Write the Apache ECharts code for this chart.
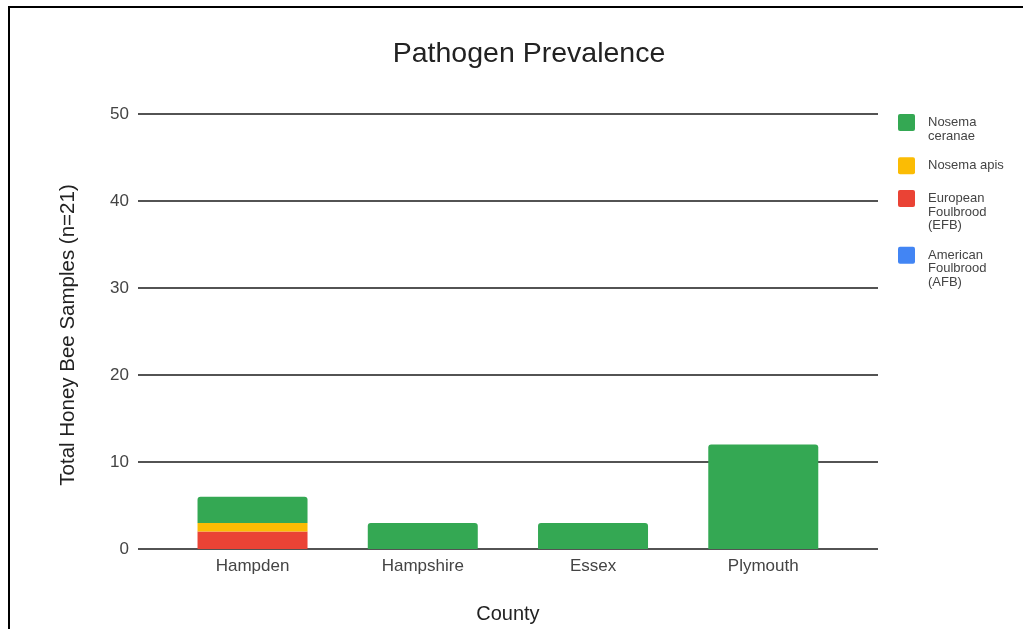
<!DOCTYPE html>
<html>
<head>
<meta charset="utf-8">
<script src="https://cdn.jsdelivr.net/npm/echarts@6/dist/echarts.min.js"></script>
<style>
html,body{margin:0;padding:0;background:#fff;}
#chart{width:1023px;height:629px;}
</style>
</head>
<body>
<div id="chart"></div>
<script>
var counties = ['Hampden', 'Hampshire', 'Essex', 'Plymouth'];
var afb = [0, 0, 0, 0];
var efb = [2, 0, 0, 0];
var nosemaApis = [1, 0, 0, 0];
var nosemaCeranae = [3, 3, 3, 12];
var yTicks = [0, 10, 20, 30, 40, 50];

var seriesNames = ['American Foulbrood (AFB)', 'European Foulbrood (EFB)', 'Nosema apis', 'Nosema ceranae'];
var legendOrder = ['Nosema ceranae', 'Nosema apis', 'European Foulbrood (EFB)', 'American Foulbrood (AFB)'];
var legendText = {
  'Nosema ceranae': 'Nosema\nceranae',
  'Nosema apis': 'Nosema apis',
  'European Foulbrood (EFB)': 'European\nFoulbrood\n(EFB)',
  'American Foulbrood (AFB)': 'American\nFoulbrood\n(AFB)'
};
var colors = {
  'Nosema ceranae': '#34a853',
  'Nosema apis': '#fbbc04',
  'European Foulbrood (EFB)': '#ea4335',
  'American Foulbrood (AFB)': '#4285f4'
};

var FONT = '"Liberation Sans", Arial, sans-serif';
var LH = 13.5;
var iconTops = [114, 157.3, 190, 246.7];
var ICON = 17;

function padLines(txt) {
  var n = txt.split('\n').length;
  var pre = '';
  for (var k = 1; k < n; k++) pre += '\n';
  return pre + txt;
}

var legends = legendOrder.map(function (name, i) {
  var n = legendText[name].split('\n').length;
  var off = ICON / 2 - (2 * n - 1) * LH / 2;
  return {
    data: [name],
    orient: 'vertical',
    left: 898,
    top: iconTops[i] + Math.min(0, off),
    padding: 0,
    itemWidth: ICON,
    itemHeight: ICON,
    icon: 'path://M2,0H15A2,2,0,0,1,17,2V15A2,2,0,0,1,15,17H2A2,2,0,0,1,0,15V2A2,2,0,0,1,2,0Z',
    selectedMode: false,
    formatter: function (nm) { return padLines(legendText[nm]); },
    textStyle: {
      fontFamily: FONT, fontSize: 13, color: '#444', lineHeight: LH,
      padding: [0, 0, 0, 8]
    }
  };
});

var dataMap = {
  'American Foulbrood (AFB)': afb,
  'European Foulbrood (EFB)': efb,
  'Nosema apis': nosemaApis,
  'Nosema ceranae': nosemaCeranae
};

var series = seriesNames.map(function (name) {
  return {
    name: name,
    type: 'bar',
    stack: 'total',
    xAxisIndex: 1,
    yAxisIndex: 1,
    barWidth: 110,
    data: dataMap[name],
    itemStyle: {
      color: colors[name],
      borderRadius: name === 'Nosema ceranae' ? [3, 3, 0, 0] : 0
    },
    emphasis: { disabled: true }
  };
});

var chart = echarts.init(document.getElementById('chart'), null, { renderer: 'canvas' });
chart.setOption({
  animation: false,
  backgroundColor: '#ffffff',
  textStyle: { fontFamily: FONT },
  title: {
    text: 'Pathogen Prevalence',
    left: 529,
    top: 40,
    textAlign: 'center',
    padding: 0,
    textStyle: { fontFamily: FONT, fontSize: 28.5, fontWeight: 'normal', color: '#222' }
  },
  legend: legends,
  graphic: [
    { type: 'line', shape: { x1: 8, y1: 7, x2: 1023, y2: 7 }, style: { stroke: '#000', lineWidth: 2 } },
    { type: 'line', shape: { x1: 9, y1: 6, x2: 9, y2: 629 }, style: { stroke: '#000', lineWidth: 2 } }
  ],
  grid: [
    { left: 138, right: 145, top: 114, bottom: 80, outerBoundsMode: 'none', containLabel: false },
    { left: 167.4, right: 174.6, top: 114, bottom: 80, outerBoundsMode: 'none', containLabel: false }
  ],
  xAxis: [
    { gridIndex: 0, type: 'value', min: 0, max: 1, show: false },
    {
      gridIndex: 1, type: 'category', data: counties,
      axisLine: { show: false }, axisTick: { show: false },
      axisLabel: { fontFamily: FONT, fontSize: 17, color: '#444', margin: 9 },
      name: 'County', nameLocation: 'middle', nameGap: 55,
      nameTextStyle: { fontFamily: FONT, fontSize: 20, color: '#222' }
    }
  ],
  yAxis: [
    {
      gridIndex: 0, type: 'value', min: yTicks[0], max: yTicks[yTicks.length - 1], interval: 10,
      axisLine: { show: false }, axisTick: { show: false },
      axisLabel: { fontFamily: FONT, fontSize: 17, color: '#444', margin: 9 },
      splitLine: { lineStyle: { color: '#1a1a1a', width: 1.5 } },
      name: 'Total Honey Bee Samples (n=21)', nameLocation: 'middle', nameRotate: 90, nameGap: 59,
      nameTextStyle: { fontFamily: FONT, fontSize: 20.5, color: '#222', padding: [0, 7, 0, 0] }
    },
    {
      gridIndex: 1, type: 'value', min: yTicks[0], max: yTicks[yTicks.length - 1], interval: 10,
      show: false, splitLine: { show: false }
    }
  ],
  series: series
});
</script>
</body>
</html>
